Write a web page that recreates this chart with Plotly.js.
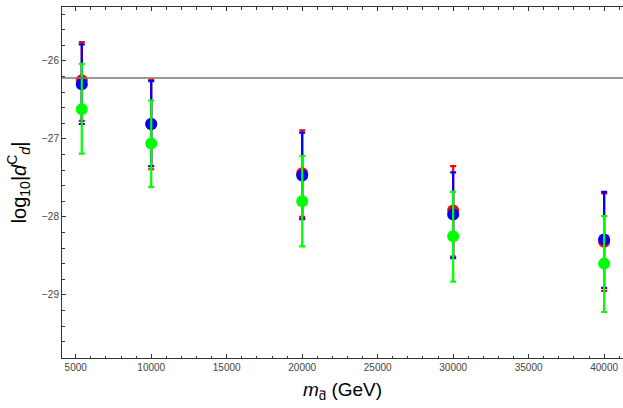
<!DOCTYPE html>
<html>
<head>
<meta charset="utf-8">
<script src="https://cdn.plot.ly/plotly-3.0.1.min.js"></script>
<style>html,body{margin:0;padding:0;background:#fff;}#chart{width:623px;height:408px;}</style>
</head>
<body>
<div id="chart"></div>
<script>
// Masses (GeV)
const masses = [5400, 10000, 20000, 30000, 40000];

// Red series
const redY     = [-26.25, -26.81, -27.44, -27.92, -28.32];
const redHigh  = [-25.76, -26.24, -26.89, -27.35, -27.70];
const redLow   = [-26.77, -27.39, -28.00, -28.51, -28.95];

// Blue series
const blueY    = [-26.30, -26.81, -27.47, -27.97, -28.29];
const blueHigh = [-25.79, -26.26, -26.92, -27.43, -27.68];
const blueLow  = [-26.81, -27.35, -28.03, -28.53, -28.91];

// Green series
const greenY    = [-26.62, -27.06, -27.80, -28.25, -28.60];
const greenHigh = [-26.04, -26.51, -27.22, -27.68, -27.99];
const greenLow  = [-27.19, -27.62, -28.38, -28.83, -29.22];

// Reference line
const refLine = [-26.22];

function series(y, hi, lo, color) {
  return {
    x: masses, y: y, type: 'scatter', mode: 'markers',
    marker: {color: color, size: 12, line: {width: 0}},
    error_y: {
      type: 'data', symmetric: false,
      array: y.map((v, i) => hi[i] - v),
      arrayminus: y.map((v, i) => v - lo[i]),
      color: color, thickness: 2.2, width: 3
    },
    showlegend: false, hoverinfo: 'skip'
  };
}

const data = [
  series(redY, redHigh, redLow, '#ff0000'),
  series(blueY, blueHigh, blueLow, '#0000ff'),
  series(greenY, greenHigh, greenLow, '#00ff00')
];

const axisColor = '#333333';
const tickFont = {family: 'Liberation Sans, Arial, sans-serif', size: 10, color: '#444444'};

const layout = {
  width: 623, height: 408,
  margin: {l: 62, r: 0, t: 7, b: 50, pad: 0},
  paper_bgcolor: '#ffffff', plot_bgcolor: '#ffffff',
  showlegend: false,
  xaxis: {
    range: [4090, 41250], showgrid: false, zeroline: false,
    showline: true, linecolor: axisColor, linewidth: 1, mirror: 'ticks',
    tick0: 5000, dtick: 5000, ticks: 'inside', ticklen: 4, tickcolor: axisColor,
    tickformat: 'd', separatethousands: false,
    tickfont: tickFont,
    minor: {dtick: 1000, tick0: 5000, ticks: 'inside', ticklen: 2.5, tickcolor: axisColor, showgrid: false},
    title: {text: '<i>m</i><sub>d\u0303</sub> (GeV)', font: {family: 'Liberation Sans, Arial, sans-serif', size: 19, color: '#000'}, standoff: 10}
  },
  yaxis: {
    range: [-29.81, -25.31], showgrid: false, zeroline: false,
    showline: true, linecolor: axisColor, linewidth: 1, mirror: false,
    tick0: -30, dtick: 1, ticks: 'inside', ticklen: 4, tickcolor: axisColor,
    tickfont: tickFont,
    minor: {dtick: 0.2, ticks: 'inside', ticklen: 2.5, tickcolor: axisColor, showgrid: false},
    title: {text: 'log<sub>10</sub>|<i>d</i><sup>C</sup><sub><i>d</i></sub>|', font: {family: 'Liberation Sans, Arial, sans-serif', size: 20, color: '#000'}, standoff: 10}
  },
  shapes: [{
    type: 'line', xref: 'paper', x0: 0, x1: 1, yref: 'y', y0: refLine[0], y1: refLine[0],
    line: {color: '#777777', width: 1.5}
  }]
};

Plotly.newPlot('chart', data, layout, {displayModeBar: false, staticPlot: true});
</script>
</body>
</html>
